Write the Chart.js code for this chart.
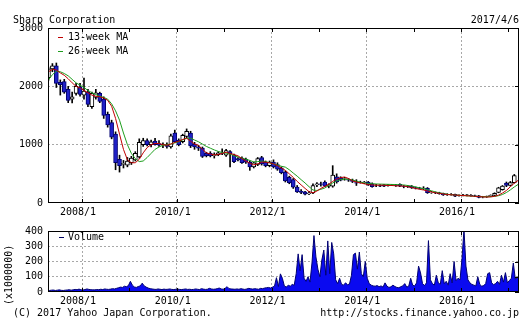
<!DOCTYPE html>
<html>
<head>
<meta charset="utf-8">
<script src="https://cdn.jsdelivr.net/npm/chart.js@4.4.1/dist/chart.umd.min.js"></script>
<style>
  html, body { margin: 0; padding: 0; background: #fff; }
  #wrap { position: relative; width: 531px; height: 322px; overflow: hidden;
          font-family: "DejaVu Sans Mono", monospace; font-size: 10px; color: #000; }
  #wrap canvas { position: absolute; left: 0; }
  .t { position: absolute; line-height: 12px; white-space: nowrap; }
  .dash { position: absolute; width: 5px; height: 1px; }
</style>
</head>
<body>
<div id="wrap">
  <canvas id="price" width="531" height="220" style="top:0"></canvas>
  <canvas id="vol" width="531" height="102" style="top:220px"></canvas>

  <div class="t" style="left:13px;top:14px">Sharp Corporation</div>
  <div class="t" style="right:12px;top:14px">2017/4/6</div>

  <span class="dash" style="left:58px;top:37px;background:#c00000"></span>
  <div class="t" style="left:68px;top:31px">13-week MA</div>
  <span class="dash" style="left:58px;top:51px;background:#1e9e1e"></span>
  <div class="t" style="left:68px;top:45px">26-week MA</div>

  <span class="dash" style="left:59px;top:237px;background:#000060"></span>
  <div class="t" style="left:68px;top:231px">Volume</div>
  <div class="t" style="left:-21px;top:269px;width:60px;text-align:center;transform:rotate(-90deg)">(x1000000)</div>

  <div class="t" style="left:13px;top:307px">(C) 2017 Yahoo Japan Corporation.</div>
  <div class="t" style="right:12px;top:307px">http://stocks.finance.yahoo.co.jp</div>
</div>

<script>
// monthly candles, 2007/4 .. 2017/2
var opens = [2150,2300,2350,2070,2080,1950,1780,1880,1990,1850,1900,1650,1810,1880,1780,1520,1380,1180,750,660,
  650,690,740,790,1000,1070,1000,1060,1020,990,990,960,1200,1080,1050,1140,1200,1010,960,940,
  850,850,810,830,860,820,880,820,760,770,750,700,620,660,780,700,640,700,660,600,
  530,440,400,274,200,190,160,171,310,330,360,290,290,450,430,410,400,390,350,360,
  350,360,330,300,300,310,300,310,305,320,290,285,290,265,255,250,250,180,180,175,
  165,145,150,150,125,130,135,130,125,125,100,105,115,130,180,230,340,300,350];
var highs = [2330,2390,2400,2110,2120,2000,1900,2050,2050,2140,1950,1900,1950,1900,1820,1560,1420,1220,820,730,
  780,800,880,1100,1110,1100,1080,1110,1070,1030,1030,1180,1250,1100,1180,1270,1230,1040,990,960,
  870,880,860,880,930,920,900,840,780,790,770,720,700,780,800,720,720,740,690,620,
  550,460,420,300,230,200,200,330,350,360,380,330,640,500,450,440,420,410,400,375,
  370,370,345,320,315,320,320,320,320,330,300,300,300,275,270,280,265,200,190,185,
  170,160,160,155,140,150,150,145,135,130,115,120,140,175,270,300,360,370,490];
var lows = [2100,2250,1980,1850,1880,1720,1714,1850,1830,1780,1650,1620,1780,1720,1450,1300,1100,570,530,600,
  620,660,720,770,970,980,960,990,970,950,940,940,1040,980,1030,1120,950,920,900,780,
  790,790,770,810,830,800,620,690,720,680,680,560,600,640,650,620,620,600,560,500,
  360,330,250,180,160,140,142,160,280,290,280,260,270,340,380,390,370,350,300,340,
  330,300,270,280,280,280,290,295,285,280,260,265,250,240,240,230,165,165,160,150,
  130,130,135,110,115,120,120,115,110,88,88,95,110,125,175,220,280,290,340];
var closes = [2300,2350,2050,2030,1900,1760,1820,2000,1860,1920,1690,1880,1890,1740,1500,1340,1130,690,640,680,
  720,770,850,1040,1070,1000,1050,1000,990,1000,970,1150,1050,1000,1160,1230,980,960,940,800,
  810,805,830,860,850,900,840,710,740,690,700,620,690,760,670,640,700,620,580,520,
  380,350,270,190,180,150,170,300,330,320,290,310,480,360,390,420,390,370,340,355,
  360,310,280,300,290,290,310,305,300,290,285,280,260,255,250,255,175,185,175,160,
  140,150,145,115,130,135,140,125,120,95,105,110,130,165,260,290,300,350,470];

// moving averages, one point per month 2007/4 .. 2017/3
var ma13 = [2250,2290,2280,2230,2190,2130,2060,2000,1970,1930,1890,1850,1830,1820,1800,1760,1660,1450,1180,920,
  740,690,690,750,860,950,1000,1020,1020,1000,990,1010,1040,1060,1090,1110,1060,1010,990,920,
  860,840,825,830,850,870,850,830,810,760,720,680,655,670,700,700,690,670,640,600,
  560,500,440,370,310,250,195,175,205,250,285,320,370,410,435,446,420,380,360,345,
  330,315,309,305,305,305,300,300,295,292,290,280,265,250,235,223,205,190,175,165,
  155,145,140,137,132,128,124,120,115,110,105,103,105,115,135,170,215,280,340,390];
var ma26 = [2110,2200,2260,2250,2220,2180,2120,2060,2020,1980,1930,1890,1860,1830,1810,1780,1700,1580,1420,1200,
  1000,850,760,710,720,780,850,920,960,990,1000,1010,1030,1050,1080,1110,1110,1080,1050,1010,
  970,940,910,885,865,855,840,810,790,770,750,730,705,710,720,710,690,670,650,630,
  615,570,514,460,400,343,280,223,215,235,257,300,343,380,400,411,405,395,375,355,
  343,336,330,326,324,322,320,318,315,312,309,300,290,275,260,245,230,210,190,175,
  162,150,142,137,132,128,124,120,116,112,110,108,108,112,125,145,180,225,275,320];

// volume (x1000000), two points per month 2007/4 .. 2017/3
var volume = [
  11,10,12,13,10,12,14,11,10,12,13,15,12,14,17,15,19,14,13,16,20,17,15,14,
  14,16,15,18,16,20,18,17,19,22,20,24,28,32,30,38,35,42,70,45,33,30,36,40,
  58,40,32,26,22,20,18,17,20,18,16,19,17,18,20,17,16,18,19,17,16,18,20,17,
  18,16,17,20,18,16,22,19,17,18,24,20,18,19,22,26,20,18,24,35,22,20,19,18,
  20,18,22,19,17,20,24,21,19,22,20,18,24,22,26,28,30,26,32,38,94,36,119,90,
  40,32,45,38,50,44,120,250,140,245,90,70,100,65,190,370,230,150,100,210,275,110,335,120,
  325,250,80,55,90,50,45,60,48,52,110,245,255,150,262,120,100,200,90,55,45,40,38,42,
  35,40,32,60,38,30,34,45,36,30,28,35,40,55,32,38,90,45,40,60,170,125,55,42,
  60,337,80,55,45,110,60,50,140,55,70,45,120,60,200,75,90,80,220,410,170,80,60,50,
  45,40,100,50,38,42,55,120,127,60,48,55,70,50,110,65,127,60,75,90,190,85,95,100];

var years = [2008, 2009, 2010, 2011, 2012, 2013, 2014, 2015, 2016, 2017];
var xMin = 2007.282, xMax = 2017.224;

function monthX(i) { return 2007.25 + (i + 0.5) / 12; }
function halfX(i) { return 2007.25 + (i + 0.5) / 24; }

Chart.defaults.font.family = '"DejaVu Sans Mono", monospace';
Chart.defaults.font.size = 10;
Chart.defaults.color = '#000';

var GRID = '#a8a8a8';
var NONE = 'rgba(0,0,0,0)';

// frame + small inside tick marks
var frame = {
  id: 'frame',
  afterDraw: function (chart) {
    var ctx = chart.ctx, a = chart.chartArea, x = chart.scales.x, y = chart.scales.y;
    ctx.save();
    ctx.strokeStyle = '#000';
    ctx.lineWidth = 1;
    ctx.beginPath();
    years.forEach(function (v) {
      var px = Math.round(x.getPixelForValue(v)) + 0.5;
      ctx.moveTo(px, a.top); ctx.lineTo(px, a.top + 4);
      ctx.moveTo(px, a.bottom); ctx.lineTo(px, a.bottom - 4);
    });
    y.ticks.forEach(function (t) {
      var py = Math.round(y.getPixelForValue(t.value)) + 0.5;
      ctx.moveTo(a.right, py); ctx.lineTo(a.right - 4, py);
    });
    ctx.stroke();
    ctx.strokeRect(a.left + 0.5, a.top + 0.5, a.right - a.left - 1, a.bottom - a.top - 1);
    ctx.restore();
  }
};

function xScale(h) {
  return {
    type: 'linear', min: xMin, max: xMax, offset: false,
    afterBuildTicks: function (ax) { ax.ticks = years.map(function (v) { return { value: v }; }); },
    afterFit: function (ax) { ax.height = h; },
    grid: { offset: false, drawTicks: false,
      color: function (c) { return c.tick && c.tick.value % 2 === 0 ? GRID : NONE; } },
    border: { display: false, dash: [2, 2] },
    ticks: { autoSkip: false, maxRotation: 0, padding: 3, labelOffset: -4,
      callback: function (v) { return v % 2 === 0 ? v + '/1' : ''; } }
  };
}

function yScale(max, step) {
  return {
    min: 0, max: max,
    afterFit: function (ax) { ax.width = 48; },
    grid: { drawTicks: false,
      color: function (c) { return c.tick && c.tick.value > 0 && c.tick.value < max ? GRID : NONE; } },
    border: { display: false, dash: [2, 2] },
    ticks: { stepSize: step, padding: 5, callback: function (v) { return String(v); } }
  };
}

new Chart(document.getElementById('price'), {
  type: 'bar',
  data: {
    datasets: [
      { type: 'line', label: '13-week MA', order: 0,
        data: ma13.map(function (v, i) { return { x: monthX(i), y: v }; }),
        borderColor: '#c00000', borderWidth: 1, pointRadius: 0, tension: 0 },
      { type: 'line', label: '26-week MA', order: 0,
        data: ma26.map(function (v, i) { return { x: monthX(i), y: v }; }),
        borderColor: '#1e9e1e', borderWidth: 1, pointRadius: 0, tension: 0 },
      { label: 'body', order: 1, grouped: false, barThickness: 4, borderWidth: 1, borderSkipped: false,
        data: opens.map(function (o, i) { return { x: monthX(i), y: [o, closes[i]] }; }),
        backgroundColor: function (c) { return closes[c.dataIndex] >= opens[c.dataIndex] ? '#ffffff' : '#2020c8'; },
        borderColor: function (c) { return closes[c.dataIndex] >= opens[c.dataIndex] ? '#000000' : '#000070'; } },
      { label: 'wick', order: 2, grouped: false, barThickness: 1,
        data: lows.map(function (l, i) { return { x: monthX(i), y: [l, highs[i]] }; }),
        backgroundColor: '#000' }
    ]
  },
  options: {
    responsive: false, animation: false, devicePixelRatio: 1,
    layout: { padding: { top: 28, right: 12, left: 0, bottom: 0 } },
    plugins: { legend: { display: false }, tooltip: { enabled: false } },
    scales: { x: xScale(17), y: yScale(3000, 1000) }
  },
  plugins: [frame]
});

new Chart(document.getElementById('vol'), {
  type: 'line',
  data: {
    datasets: [{
      label: 'Volume',
      data: volume.map(function (v, i) { return { x: halfX(i), y: v }; }),
      borderColor: '#000070', backgroundColor: '#0a0af0', borderWidth: 1,
      pointRadius: 0, tension: 0, fill: 'origin'
    }]
  },
  options: {
    responsive: false, animation: false, devicePixelRatio: 1,
    layout: { padding: { top: 8, right: 12, left: 0, bottom: 0 } },
    plugins: { legend: { display: false }, tooltip: { enabled: false } },
    scales: { x: xScale(30), y: yScale(400, 100) }
  },
  plugins: [frame]
});
</script>
</body>
</html>
